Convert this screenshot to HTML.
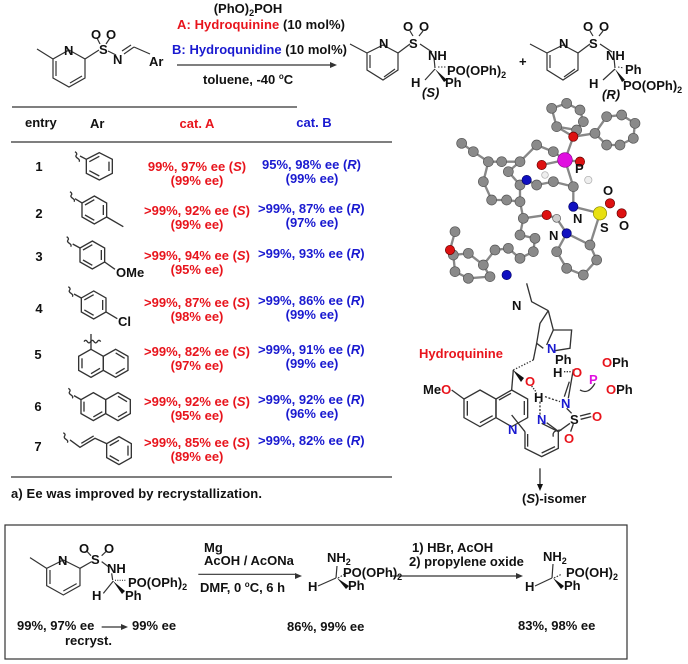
<!DOCTYPE html>
<html><head><meta charset="utf-8"><style>
html,body{margin:0;padding:0;background:#fff}
svg{display:block}
text{font-family:"Liberation Sans",Arial,sans-serif;font-weight:bold;font-size:13px;fill:#111}
.r{fill:#e8141c}.b{fill:#1a1ad0}.m{fill:#e010e0}.bl{fill:#1a1ad0}
.s{font-size:9px}
</style></head><body>
<svg width="688" height="664" viewBox="0 0 688 664" xmlns="http://www.w3.org/2000/svg">
<g fill="none" stroke="#333" stroke-width="1.2">
<polygon points="69,50 85,59 85,78 69,87 53,78 53,59"/>
<line x1="56" y1="76" x2="56" y2="61"/><line x1="70" y1="83" x2="82" y2="76"/>
<line x1="53" y1="59" x2="37" y2="49"/>
<line x1="85" y1="59" x2="99" y2="50"/>
<line x1="97" y1="38" x2="100" y2="44"/><line x1="110" y1="38" x2="106" y2="44"/>
<line x1="108" y1="51" x2="116" y2="55"/>
<line x1="124" y1="54" x2="134" y2="47"/><line x1="122" y1="51" x2="131" y2="45"/>
<line x1="134" y1="47" x2="150" y2="54"/>
<line x1="177" y1="65" x2="330" y2="65"/>
<polygon points="383,45 398,53 398,70 383,80 367,70 367,53"/>
<line x1="370" y1="68" x2="370" y2="55"/><line x1="384" y1="77" x2="395" y2="69"/>
<line x1="367" y1="53" x2="350" y2="44"/>
<line x1="398" y1="53" x2="410" y2="44"/>
<line x1="410" y1="31" x2="413" y2="36"/><line x1="423" y1="31" x2="419" y2="36"/>
<line x1="420" y1="44" x2="432" y2="52"/>
<line x1="434" y1="58" x2="435" y2="68"/>
<line x1="425" y1="80" x2="435" y2="69"/>
<polygon points="563,45 578,53 578,70 563,80 547,70 547,53"/>
<line x1="550" y1="68" x2="550" y2="55"/><line x1="564" y1="77" x2="575" y2="69"/>
<line x1="547" y1="53" x2="530" y2="44"/>
<line x1="578" y1="53" x2="590" y2="44"/>
<line x1="590" y1="31" x2="593" y2="36"/><line x1="603" y1="31" x2="599" y2="36"/>
<line x1="600" y1="44" x2="612" y2="52"/>
<line x1="614" y1="58" x2="615" y2="68"/>
<line x1="603" y1="80" x2="615" y2="69"/>
<line x1="12" y1="107" x2="297" y2="107"/>
<line x1="11" y1="142" x2="392" y2="142"/>
<line x1="11" y1="477" x2="392" y2="477"/>
<rect x="5" y="525" width="622" height="134"/>
</g>
<polygon points="330,62 337,65 330,68" fill="#333"/>
<polygon points="435,69 447,80 444,82" fill="#111"/>
<polygon points="615,69 622,82 625,80" fill="#111"/>
<g stroke="#333" stroke-width="1"><line x1="438" y1="67" x2="446" y2="67" stroke-dasharray="1.5,1.5"/><line x1="618" y1="67" x2="624" y2="68" stroke-dasharray="1.5,1.5"/></g>

<text x="248" y="13" text-anchor="middle">(PhO)<tspan class="s" dy="3">2</tspan><tspan dy="-3">POH</tspan></text>
<text x="177" y="29" textLength="168"><tspan class="r">A: Hydroquinine</tspan> (10 mol%)</text>
<text x="172" y="54" textLength="175"><tspan class="b">B: Hydroqunidine</tspan> (10 mol%)</text>
<text x="203" y="84">toluene, -40 <tspan font-size="8" dy="-5">o</tspan><tspan dy="5">C</tspan></text>
<text x="64" y="55">N</text><text x="99" y="54">S</text>
<text x="91" y="39">O</text><text x="106" y="39">O</text>
<text x="113" y="64">N</text><text x="149" y="66">Ar</text>
<text x="379" y="48">N</text><text x="409" y="48">S</text>
<text x="403" y="31">O</text><text x="419" y="31">O</text>
<text x="428" y="60">NH</text>
<text x="447" y="75">PO(OPh)<tspan class="s" dy="3">2</tspan></text>
<text x="411" y="87">H</text><text x="445" y="87">Ph</text>
<text x="422" y="97" font-style="italic">(S)</text>
<text x="519" y="66">+</text>
<text x="559" y="48">N</text><text x="589" y="48">S</text>
<text x="583" y="31">O</text><text x="599" y="31">O</text>
<text x="606" y="60">NH</text>
<text x="625" y="74">Ph</text>
<text x="589" y="88">H</text>
<text x="623" y="90">PO(OPh)<tspan class="s" dy="3">2</tspan></text>
<text x="602" y="99" font-style="italic">(R)</text>

<text x="25" y="127">entry</text>
<text x="90" y="128">Ar</text>
<text x="197" y="128" text-anchor="middle" class="r">cat. A</text>
<text x="314" y="127" text-anchor="middle" class="b">cat. B</text>
<g text-anchor="middle">
<text x="39" y="171">1</text><text x="39" y="218">2</text><text x="39" y="261">3</text><text x="39" y="313">4</text><text x="38" y="359">5</text><text x="38" y="411">6</text><text x="38" y="451">7</text>
</g>
<g text-anchor="middle">
<text class="r" x="197" y="171">99%, 97% ee (<tspan font-style="italic">S</tspan>)</text>
<text class="r" x="197" y="185">(99% ee)</text>
<text class="r" x="197" y="215">&gt;99%, 92% ee (<tspan font-style="italic">S</tspan>)</text>
<text class="r" x="197" y="229">(99% ee)</text>
<text class="r" x="197" y="260">&gt;99%, 94% ee (<tspan font-style="italic">S</tspan>)</text>
<text class="r" x="197" y="274">(95% ee)</text>
<text class="r" x="197" y="307">&gt;99%, 87% ee (<tspan font-style="italic">S</tspan>)</text>
<text class="r" x="197" y="321">(98% ee)</text>
<text class="r" x="197" y="356">&gt;99%, 82% ee (<tspan font-style="italic">S</tspan>)</text>
<text class="r" x="197" y="370">(97% ee)</text>
<text class="r" x="197" y="406">&gt;99%, 92% ee (<tspan font-style="italic">S</tspan>)</text>
<text class="r" x="197" y="420">(95% ee)</text>
<text class="r" x="197" y="447">&gt;99%, 85% ee (<tspan font-style="italic">S</tspan>)</text>
<text class="r" x="197" y="461">(89% ee)</text>
</g>
<g>
<text class="b" x="262" y="169">95%, 98% ee (<tspan font-style="italic">R</tspan>)</text>
<text class="b" x="312" y="183" text-anchor="middle">(99% ee)</text>
<text class="b" x="258" y="213">&gt;99%, 87% ee (<tspan font-style="italic">R</tspan>)</text>
<text class="b" x="312" y="227" text-anchor="middle">(97% ee)</text>
<text class="b" x="258" y="258">&gt;99%, 93% ee (<tspan font-style="italic">R</tspan>)</text>
<text class="b" x="258" y="305">&gt;99%, 86% ee (<tspan font-style="italic">R</tspan>)</text>
<text class="b" x="312" y="319" text-anchor="middle">(99% ee)</text>
<text class="b" x="258" y="354">&gt;99%, 91% ee (<tspan font-style="italic">R</tspan>)</text>
<text class="b" x="312" y="368" text-anchor="middle">(99% ee)</text>
<text class="b" x="258" y="404">&gt;99%, 92% ee (<tspan font-style="italic">R</tspan>)</text>
<text class="b" x="312" y="418" text-anchor="middle">(96% ee)</text>
<text class="b" x="258" y="445">&gt;99%, 82% ee (<tspan font-style="italic">R</tspan>)</text>
</g>
<text x="11" y="498" textLength="251">a) Ee was improved by recrystallization.</text>

<g transform="translate(0,110) scale(0.3333)" fill="none" stroke="#333" stroke-width="4">
<polygon points="298,128 337,148 337,190 298,210 259,190 259,148"/><line x1="327" y1="155" x2="327" y2="183"/><line x1="298" y1="198" x2="268" y2="182"/><line x1="268" y1="155" x2="298" y2="139"/>
<line x1="259" y1="148" x2="240" y2="138"/><path d="M225,125 q8,5 4,10 q-4,5 4,10 q8,5 4,10"/>
<polygon points="283,258 320,279 320,321 283,342 246,321 246,279"/><line x1="310" y1="285" x2="310" y2="315"/><line x1="283" y1="331" x2="255" y2="315"/><line x1="255" y1="285" x2="283" y2="269"/>
<line x1="320" y1="321" x2="370" y2="350"/><line x1="246" y1="279" x2="225" y2="266"/><path d="M210,245 q8,5 4,10 q-4,5 4,10 q8,5 4,10"/>
<polygon points="277,393 314,414 314,456 277,477 240,456 240,414"/><line x1="304" y1="420" x2="304" y2="450"/><line x1="277" y1="466" x2="249" y2="450"/><line x1="249" y1="420" x2="277" y2="404"/>
<line x1="314" y1="456" x2="345" y2="478"/><line x1="240" y1="414" x2="218" y2="402"/><path d="M200,380 q8,5 4,10 q-4,5 4,10 q8,5 4,10"/>
<polygon points="281,543 318,564 318,606 281,627 244,606 244,564"/><line x1="308" y1="570" x2="308" y2="600"/><line x1="281" y1="616" x2="253" y2="600"/><line x1="253" y1="570" x2="281" y2="554"/>
<line x1="318" y1="606" x2="352" y2="626"/><line x1="244" y1="564" x2="222" y2="552"/><path d="M205,530 q8,5 4,10 q-4,5 4,10 q8,5 4,10"/>
<polygon points="273,718 310,739 310,781 273,802 236,781 236,739"/><polygon points="347,718 384,739 384,781 347,802 310,781 310,739"/>
<line x1="246" y1="745" x2="246" y2="775"/><line x1="273" y1="791" x2="300" y2="775"/><line x1="347" y1="729" x2="374" y2="745"/><line x1="374" y1="775" x2="347" y2="791"/>
<line x1="273" y1="718" x2="273" y2="672"/><path d="M252,695 q5,-8 10,0 q5,8 10,0 q5,-8 10,0 q5,8 10,0 q5,-8 10,0"/>
<polygon points="280,848 317,869 317,911 280,932 243,911 243,869"/><polygon points="354,848 391,869 391,911 354,932 317,911 317,869"/>
<line x1="252" y1="875" x2="252" y2="905"/><line x1="280" y1="921" x2="307" y2="905"/><line x1="354" y1="859" x2="381" y2="875"/><line x1="381" y1="905" x2="354" y2="921"/>
<line x1="243" y1="869" x2="222" y2="857"/><path d="M205,835 q8,5 4,10 q-4,5 4,10 q8,5 4,10"/>
<polygon points="357,980 394,1001 394,1043 357,1064 320,1043 320,1001"/><line x1="384" y1="1007" x2="384" y2="1037"/><line x1="357" y1="1053" x2="329" y2="1037"/><line x1="329" y1="1007" x2="357" y2="991"/>
<polyline points="210,990 240,1012 285,985 320,1001"/><line x1="244" y1="1000" x2="281" y2="978"/><path d="M190,968 q8,5 4,10 q-4,5 4,10 q8,5 4,10"/>
</g>
<text x="116" y="277">OMe</text><text x="118" y="326">Cl</text>

<g transform="translate(420,85) scale(0.3333)">
<g stroke="#888" stroke-width="7" fill="none">
<polyline points="395,70 440,55 480,75 490,110 470,135 410,125 395,70"/>
<polyline points="560,95 605,90 645,115 640,160 600,180 560,180 525,145 560,95"/>
<polyline points="125,175 160,200 205,230 245,230 300,230 350,180 400,200 435,225"/>
<polyline points="205,230 190,290 215,345 260,345 300,350 300,300 265,260 300,230"/>
<polyline points="320,285 350,300 400,290 460,305 460,365 540,385"/>
<polyline points="300,350 310,400 300,450 345,460 340,500 300,520 265,490 225,495 190,540 210,575 145,580 105,560 100,510 145,505 190,540"/>
<polyline points="100,510 90,495 105,440"/>
<polyline points="310,400 380,390 410,400 440,445 410,500 440,550 490,570 530,525 510,480 440,445"/>
<polyline points="510,480 540,385"/>
<polyline points="460,155 435,225 480,230"/><polyline points="460,155 525,145"/><polyline points="365,240 435,225 460,305"/>
<polyline points="410,125 460,155"/>
</g>
<g fill="#8a8a8a" stroke="#555" stroke-width="2">
<circle cx="395" cy="70" r="15"/><circle cx="440" cy="55" r="15"/><circle cx="480" cy="75" r="15"/><circle cx="490" cy="110" r="15"/><circle cx="470" cy="135" r="15"/><circle cx="410" cy="125" r="15"/>
<circle cx="560" cy="95" r="15"/><circle cx="605" cy="90" r="15"/><circle cx="645" cy="115" r="15"/><circle cx="640" cy="160" r="15"/><circle cx="600" cy="180" r="15"/><circle cx="560" cy="180" r="15"/><circle cx="525" cy="145" r="15"/>
<circle cx="125" cy="175" r="15"/><circle cx="160" cy="200" r="15"/><circle cx="205" cy="230" r="15"/><circle cx="245" cy="230" r="15"/><circle cx="300" cy="230" r="15"/><circle cx="350" cy="180" r="15"/><circle cx="400" cy="200" r="15"/>
<circle cx="190" cy="290" r="15"/><circle cx="215" cy="345" r="15"/><circle cx="260" cy="345" r="15"/><circle cx="300" cy="350" r="15"/><circle cx="300" cy="300" r="15"/><circle cx="265" cy="260" r="15"/>
<circle cx="350" cy="300" r="15"/><circle cx="400" cy="290" r="15"/><circle cx="460" cy="305" r="15"/>
<circle cx="310" cy="400" r="15"/><circle cx="300" cy="450" r="15"/><circle cx="345" cy="460" r="15"/><circle cx="340" cy="500" r="15"/><circle cx="300" cy="520" r="15"/><circle cx="265" cy="490" r="15"/><circle cx="225" cy="495" r="15"/><circle cx="190" cy="540" r="15"/><circle cx="210" cy="575" r="15"/><circle cx="145" cy="580" r="15"/><circle cx="105" cy="560" r="15"/><circle cx="100" cy="510" r="15"/><circle cx="145" cy="505" r="15"/><circle cx="105" cy="440" r="15"/>
<circle cx="410" cy="500" r="15"/><circle cx="440" cy="550" r="15"/><circle cx="490" cy="570" r="15"/><circle cx="530" cy="525" r="15"/><circle cx="510" cy="480" r="15"/>
<circle cx="410" cy="400" r="12" fill="#ccc"/>
</g>
<g stroke="#600" stroke-width="2" fill="#dd1111">
<circle cx="460" cy="155" r="14"/><circle cx="365" cy="240" r="14"/><circle cx="480" cy="230" r="14"/><circle cx="570" cy="355" r="14"/><circle cx="605" cy="385" r="14"/><circle cx="380" cy="390" r="14"/><circle cx="90" cy="495" r="14"/>
</g>
<circle cx="435" cy="225" r="22" fill="#e010e0" stroke="#808" stroke-width="2"/>
<circle cx="540" cy="385" r="20" fill="#e8e010" stroke="#880" stroke-width="2"/>
<g fill="#1010c0" stroke="#006" stroke-width="2"><circle cx="320" cy="285" r="14"/><circle cx="460" cy="365" r="14"/><circle cx="440" cy="445" r="14"/><circle cx="260" cy="570" r="14"/></g>
<g fill="#eee" stroke="#aaa" stroke-width="2"><circle cx="505" cy="285" r="11"/><circle cx="375" cy="270" r="10"/></g>
</g>
<text x="575" y="173">P</text><text x="603" y="195">O</text><text x="573" y="223">N</text><text x="600" y="232">S</text><text x="619" y="230">O</text><text x="549" y="240">N</text>

<g transform="translate(340,280) scale(0.3333)" fill="none" stroke="#333" stroke-width="4">
<polyline points="560,10 575,65 625,92"/>
<polyline points="625,92 640,150 695,150 690,205 645,212"/>
<polyline points="625,92 600,130 590,190 610,205"/>
<line x1="640" y1="150" x2="620" y2="195"/>
<line x1="590" y1="190" x2="580" y2="240"/>
<line x1="580" y1="240" x2="520" y2="270" stroke-dasharray="4,5"/>
<line x1="520" y1="270" x2="515" y2="330"/>
<polygon points="420,330 468,357 468,413 420,440 372,413 372,357"/>
<polygon points="515,330 563,357 563,413 515,440 468,413 468,357"/>
<line x1="382" y1="363" x2="382" y2="407"/><line x1="420" y1="428" x2="458" y2="407"/><line x1="477" y1="360" x2="513" y2="340"/><line x1="553" y1="363" x2="553" y2="405"/>
<line x1="335" y1="330" x2="372" y2="357"/>
<polyline points="605,430 655,455 655,505 605,530 555,505 555,455"/>
<line x1="563" y1="462" x2="563" y2="500"/><line x1="605" y1="519" x2="645" y2="500"/>
<line x1="555" y1="455" x2="515" y2="405"/>
<line x1="655" y1="455" x2="690" y2="430"/>
<line x1="620" y1="428" x2="650" y2="450"/>
<line x1="720" y1="408" x2="752" y2="400"/><line x1="722" y1="418" x2="754" y2="410"/>
<line x1="700" y1="432" x2="692" y2="455"/>
<line x1="695" y1="400" x2="680" y2="385"/>
<line x1="685" y1="355" x2="700" y2="268"/><line x1="673" y1="350" x2="688" y2="305"/>
<line x1="615" y1="350" x2="660" y2="365" stroke-dasharray="6,5"/>
<line x1="600" y1="365" x2="600" y2="405" stroke-dasharray="6,5"/>
<line x1="575" y1="318" x2="590" y2="338" stroke-dasharray="4,4"/>
<line x1="672" y1="275" x2="692" y2="275" stroke-dasharray="4,4"/>
<path d="M720,330 q25,15 45,-20"/><path d="M640,470 q-5,-20 25,-20"/>
<line x1="600" y1="565" x2="600" y2="615"/>
</g>
<polygon points="513,370 524,378 521,382" fill="#111"/>
<polygon points="537,484 543,484 540,491" fill="#111"/>
<text x="512" y="310">N</text>
<text class="r" x="419" y="358" textLength="84">Hydroquinine</text>
<text class="bl" x="547" y="353">N</text>
<text x="555" y="364">Ph</text>
<text x="553" y="377">H</text><text class="r" x="572" y="377">O</text>
<text class="r" x="602" y="367">O<tspan fill="#111">Ph</tspan></text>
<text class="m" x="589" y="384">P</text>
<text class="r" x="606" y="394">O<tspan fill="#111">Ph</tspan></text>
<text x="423" y="394">Me<tspan class="r">O</tspan></text>
<text class="r" x="525" y="386">O</text>
<text x="534" y="402">H</text>
<text class="bl" x="561" y="408">N</text>
<text class="bl" x="537" y="424">N</text>
<text x="570" y="424">S</text>
<text class="r" x="592" y="421">O</text>
<text class="r" x="564" y="443">O</text>
<text class="bl" x="508" y="434">N</text>
<text x="522" y="503">(<tspan font-style="italic">S</tspan>)-isomer</text>

<g transform="translate(0,515) scale(0.3333)" fill="none" stroke="#333" stroke-width="3.6">
<polygon points="190,135 240,160 240,212 190,240 140,212 140,160"/>
<line x1="150" y1="165" x2="150" y2="207"/><line x1="190" y1="228" x2="230" y2="206"/>
<line x1="140" y1="160" x2="90" y2="128"/>
<line x1="240" y1="160" x2="275" y2="140"/>
<line x1="260" y1="108" x2="273" y2="122"/><line x1="320" y1="108" x2="305" y2="122"/>
<line x1="305" y1="140" x2="325" y2="155"/>
<line x1="335" y1="175" x2="338" y2="195"/>
<line x1="310" y1="235" x2="340" y2="198"/>
<line x1="345" y1="196" x2="380" y2="196" stroke-dasharray="3,4"/>
<line x1="305" y1="336" x2="365" y2="336"/>
<line x1="595" y1="178" x2="885" y2="178"/>
</g>
<polygon points="121,624 128,627 121,630" fill="#333"/>
<polygon points="295,573 302,576 295,579" fill="#333"/>
<polygon points="113,581 125,591 122,594" fill="#111"/>
<text x="79" y="553">O</text><text x="104" y="553">O</text>
<text x="58" y="565">N</text><text x="91" y="564">S</text>
<text x="107" y="573">NH</text>
<text x="128" y="587">PO(OPh)<tspan class="s" dy="3">2</tspan></text>
<text x="92" y="600">H</text><text x="125" y="600">Ph</text>
<text x="17" y="630">99%, 97% ee</text>
<text x="132" y="630">99% ee</text>
<text x="65" y="645">recryst.</text>
<text x="204" y="552">Mg</text>
<text x="204" y="565">AcOH / AcONa</text>
<text x="200" y="592">DMF, 0 <tspan font-size="8" dy="-5">o</tspan><tspan dy="5">C, 6 h</tspan></text>
<g fill="none" stroke="#333" stroke-width="1.2">
<line x1="337" y1="566" x2="336" y2="578"/><line x1="318" y1="586" x2="336" y2="578"/>
<line x1="338" y1="578" x2="345" y2="574" stroke-dasharray="1.5,1.5"/>
<line x1="392" y1="576" x2="516" y2="576"/>
<line x1="553" y1="564" x2="552" y2="578"/><line x1="535" y1="586" x2="552" y2="578"/>
<line x1="554" y1="578" x2="562" y2="574" stroke-dasharray="1.5,1.5"/>
</g>
<polygon points="337,578 349,586 346,589" fill="#111"/>
<polygon points="553,578 564,586 561,589" fill="#111"/>
<polygon points="516,573 523,576 516,579" fill="#333"/>
<text x="327" y="562">NH<tspan class="s" dy="3">2</tspan></text>
<text x="343" y="577">PO(OPh)<tspan class="s" dy="3">2</tspan></text>
<text x="308" y="591">H</text><text x="348" y="590">Ph</text>
<text x="287" y="631">86%, 99% ee</text>
<text x="412" y="552">1) HBr, AcOH</text>
<text x="409" y="566">2) propylene oxide</text>
<text x="543" y="561">NH<tspan class="s" dy="3">2</tspan></text>
<text x="566" y="577">PO(OH)<tspan class="s" dy="3">2</tspan></text>
<text x="525" y="591">H</text><text x="564" y="590">Ph</text>
<text x="518" y="630">83%, 98% ee</text>
</svg>
</body></html>
